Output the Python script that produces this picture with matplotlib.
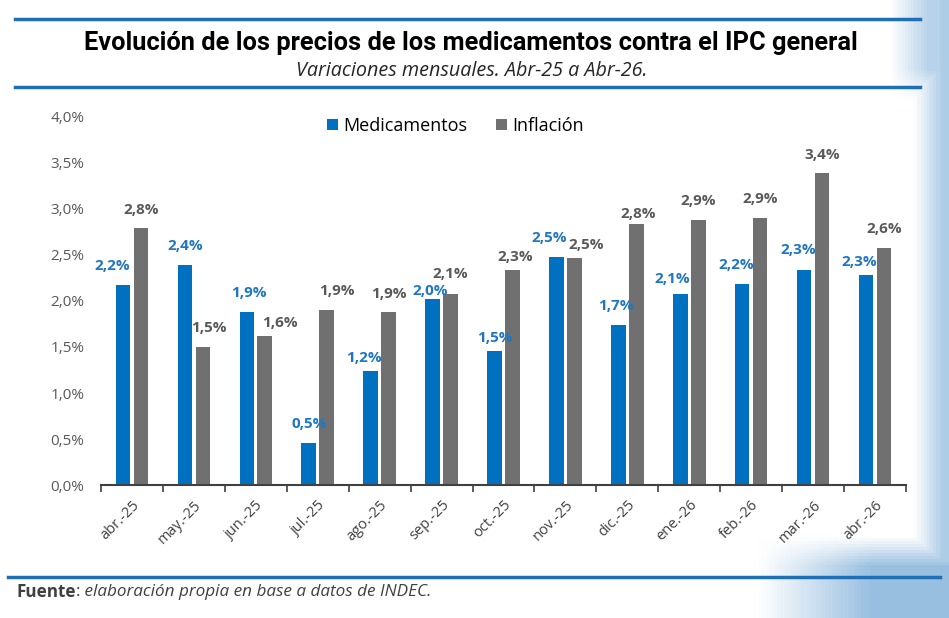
import numpy as np
import matplotlib.pyplot as plt
from matplotlib.lines import Line2D

plt.rcParams['font.family'] = ['Open Sans', 'DejaVu Sans']

# datos
meses = ['abr.-25', 'may.-25', 'jun.-25', 'jul.-25', 'ago.-25', 'sep.-25', 'oct.-25',
         'nov.-25', 'dic.-25', 'ene.-26', 'feb.-26', 'mar.-26', 'abr.-26']
medicamentos = [2.17, 2.39, 1.88, 0.46, 1.24, 2.02, 1.46, 2.48, 1.74, 2.08, 2.19, 2.34, 2.28]
inflacion = [2.79, 1.50, 1.62, 1.90, 1.88, 2.08, 2.34, 2.47, 2.84, 2.88, 2.90, 3.39, 2.58]

# desplazamiento de las etiquetas (pixeles), como quedaron en el grafico original
ajuste_azul = [(-11, 19), (0, 19), (2, 19), (0, 19), (-7, 13), (-2, 8), (0, 13),
               (-7, 19), (-2, 19), (-8, 15), (-6, 19), (-6, 20), (-7, 13)]
ajuste_gris = [(0, 18), (6, 19), (15, 13), (10, 19), (0, 18), (0, 20), (3, 13),
               (12, 13), (2, 10), (0, 19), (0, 19), (0, 18), (0, 19)]

azul = '#0070C0'
gris = '#707070'
linea = '#1F6FB5'

fig = plt.figure(figsize=(9.49, 6.18), dpi=100)
fig.patch.set_facecolor('white')

# fondo azulado a la derecha (imitando la foto de fondo)
bg = fig.add_axes([0, 0, 1, 1], zorder=-10)
gx = np.linspace(0, 1, 300)
gy = np.linspace(0, 1, 200)
X, Y = np.meshgrid(gx, gy)
m = np.clip((X - 0.965) / 0.03, 0, 1) * 0.8
m = np.maximum(m, np.clip((X - 0.94) / 0.04, 0, 1) * np.clip((Y - 0.84) / 0.05, 0, 1) * 0.7)
m = np.maximum(m, np.clip((X - 0.80) / 0.12, 0, 1) * np.clip((0.13 - Y) / 0.05, 0, 1))
img = np.ones((200, 300, 3))
col = np.array([0.60, 0.75, 0.88])
img = img * (1 - m[..., None]) + col * m[..., None]
bg.imshow(img, extent=[0, 1, 0, 1], origin='lower', aspect='auto')
bg.axis('off')

ax = fig.add_axes([0.1064, 0.2152, 0.8483, 0.5955])
x = np.arange(len(meses))
w = 0.235
d = 0.145
ax.bar(x - d, medicamentos, w, color=azul, label='Medicamentos')
ax.bar(x + d, inflacion, w, color=gris, label='Inflación')

for xi, v, (dx, dy) in zip(x, medicamentos, ajuste_azul):
    ax.annotate(f'{v:.1f}%'.replace('.', ','), (xi - d, v), xytext=(dx, dy),
                textcoords='offset pixels', ha='center', va='center',
                fontsize=11, fontweight='bold', color='#1F76C2')
for xi, v, (dx, dy) in zip(x, inflacion, ajuste_gris):
    ax.annotate(f'{v:.1f}%'.replace('.', ','), (xi + d, v), xytext=(dx, dy),
                textcoords='offset pixels', ha='center', va='center',
                fontsize=11, fontweight='bold', color='#595959')

ax.set_xlim(-0.5, len(meses) - 0.5)
ax.set_ylim(0, 4)
ticks = np.arange(0, 4.01, 0.5)
ax.set_yticks(ticks)
ax.set_yticklabels([f'{t:.1f}%'.replace('.', ',') for t in ticks])
ax.tick_params(axis='y', length=0, pad=12, labelsize=11, labelcolor='#595959')
ax.set_xticks(x)
ax.set_xticklabels(meses, rotation=45, ha='right', rotation_mode='anchor')
ax.tick_params(axis='x', length=0, pad=9, labelsize=10.5, labelcolor='#404040')
ax.set_xticks(np.arange(-0.5, len(meses), 1), minor=True)
ax.tick_params(axis='x', which='minor', length=5, width=1.2, color='#404040')
for s in ['top', 'right', 'left']:
    ax.spines[s].set_visible(False)
ax.spines['bottom'].set_color('#404040')
ax.spines['bottom'].set_linewidth(1.5)
ax.set_facecolor('none')

ax.legend(loc='center left', bbox_to_anchor=(318 / 949, 1 - 126 / 618),
          bbox_transform=fig.transFigure, ncol=2, frameon=False, borderpad=0,
          fontsize=13, handlelength=0.6, handleheight=0.6, columnspacing=1.6,
          handletextpad=0.3)

# titulo y lineas
fig.add_artist(Line2D([15 / 949, 920 / 949], [1 - 19 / 618] * 2, color=linea, lw=2.5))
fig.add_artist(Line2D([15 / 949, 920 / 949], [1 - 87 / 618] * 2, color=linea, lw=2.5))
fig.add_artist(Line2D([8 / 949, 940 / 949], [1 - 577 / 618] * 2, color=linea, lw=2.5))
fig.text(471 / 949, 1 - 43 / 618, 'Evolución de los precios de los medicamentos contra el IPC general',
         ha='center', va='center', fontsize=18.3, fontweight='bold', color='black',
         family=['Roboto', 'DejaVu Sans'])
fig.text(472 / 949, 1 - 71 / 618, 'Variaciones mensuales. Abr-25 a Abr-26.',
         ha='center', va='center', fontsize=14.2, style='italic', color='#262626')
t1 = fig.text(17 / 949, 1 - 592 / 618, 'Fuente', ha='left', va='center', fontsize=12.3,
              fontweight='bold', color='#404040')
t2 = ax.annotate(':', xy=(1, 0.5), xycoords=t1, xytext=(-1, 0), textcoords='offset pixels',
                 ha='left', va='center', fontsize=12.3, color='#404040')
ax.annotate(' elaboración propia en base a datos de INDEC.', xy=(1, 0.5), xycoords=t2,
            ha='left', va='center', fontsize=12.3, style='italic', color='#404040')

fig.savefig('out.png', dpi=100)
